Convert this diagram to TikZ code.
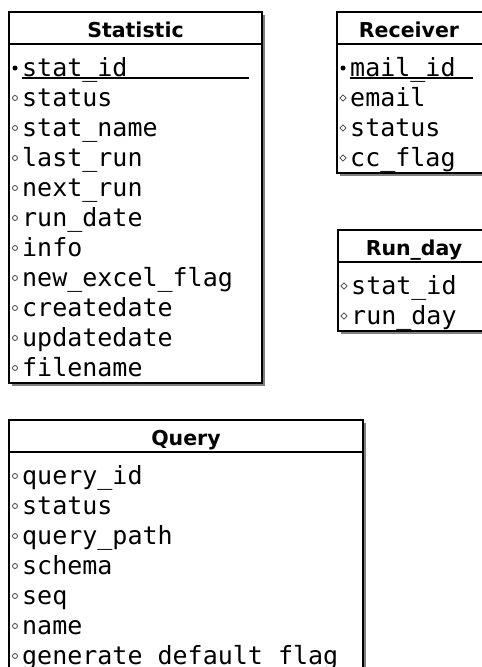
\documentclass[tikz,border=0pt]{standalone}
\usepackage{fontspec}
\setmainfont{DejaVu Sans}
\newfontfamily\monofam{DejaVu Sans Mono}
\usetikzlibrary{calc,shadows,shapes.geometric}
\newcommand{\hdrfont}{\fontsize{20.5}{24}\selectfont\bfseries}
\newcommand{\fldfont}{\monofam\fontsize{25}{30}\selectfont}
\tikzset{
  tbl/.style={draw=black, line width=2.2pt, fill=white, inner sep=0pt, outer sep=0pt, anchor=north west,
    drop shadow={shadow xshift=2.5pt, shadow yshift=-2.5pt, fill=black!50, opacity=1}},
  sepline/.style={line width=2.2pt},
  hdr/.style={font=\hdrfont, inner sep=0pt, anchor=base},
  fld/.style={font=\fldfont, inner sep=0pt, anchor=base west},
  keymark/.style={circle, fill=black, inner sep=0pt, minimum size=5pt},
  attmark/.style={circle, draw=black!75, line width=0.8pt, inner sep=0pt, minimum size=5pt},
  dmark/.style={diamond, draw=black!75, line width=0.8pt, inner sep=0pt, minimum size=6.5pt},
  keyline/.style={line width=1.3pt}
}
\begin{document}
\begin{tikzpicture}[x=1pt,y=-1pt]
\useasboundingbox[fill=white] (0,0) rectangle (482,667);

% ---------- Statistic ----------
\node[tbl, minimum width=253pt, minimum height=371pt] (stat) at (9,12) {};
\draw[sepline] ($(stat.north west)+(0,32)$) -- ($(stat.north east)+(0,32)$);
\node[hdr] (statT) at ($(stat.north)+(0,25)$) {Statistic};
\foreach \t [count=\i from 0] in {stat\_id,status,stat\_name,last\_run,next\_run,run\_date,info,new\_excel\_flag,createdate,updatedate,filename}{
  \node[fld] (stat-f\i) at ($(stat.north west)+(13,64+30*\i)$) {\t};
}
\node[keymark] (stat-m0) at ($(stat.north west)+(6,56)$) {};
\foreach \i in {1,...,10}{
  \node[attmark] (stat-m\i) at ($(stat.north west)+(6,56+30*\i)$) {};
}
\coordinate (stat-ue) at ($(stat.north east)+(-13,0)$);
\draw[keyline] ($(stat-f0.base west)+(0,2)$) -- ($(stat-f0.base west -| stat-ue)+(0,2)$);

% ---------- Receiver ----------
\node[tbl, minimum width=147pt, minimum height=161pt] (rec) at (337,12) {};
\draw[sepline] ($(rec.north west)+(0,32)$) -- ($(rec.north east)+(0,32)$);
\node[hdr] (recT) at (409,37) {Receiver};
\foreach \t [count=\i from 0] in {mail\_id,email,status,cc\_flag}{
  \node[fld] (rec-f\i) at ($(rec.north west)+(13,64+30*\i)$) {\t};
}
\node[keymark] (rec-m0) at ($(rec.north west)+(6,56)$) {};
\foreach \i in {1,...,3}{
  \node[dmark] (rec-m\i) at ($(rec.north west)+(6,56+30*\i)$) {};
}
\coordinate (rec-ue) at (473,0);
\draw[keyline] ($(rec-f0.base west)+(0,2)$) -- ($(rec-f0.base west -| rec-ue)+(0,2)$);

% ---------- Run_day ----------
\node[tbl, minimum width=152pt, minimum height=101pt] (run) at (338,230) {};
\draw[sepline] ($(run.north west)+(0,32)$) -- ($(run.north east)+(0,32)$);
\node[hdr] (runT) at (414,255) {Run\_day};
\foreach \t [count=\i from 0] in {stat\_id,run\_day}{
  \node[fld] (run-f\i) at ($(run.north west)+(13,64+30*\i)$) {\t};
  \node[dmark] (run-m\i) at ($(run.north west)+(6,56+30*\i)$) {};
}

% ---------- Query ----------
\node[tbl, minimum width=354pt, minimum height=253pt] (qry) at (9,420) {};
\draw[sepline] ($(qry.north west)+(0,32)$) -- ($(qry.north east)+(0,32)$);
\node[hdr] (qryT) at ($(qry.north)+(0,25)$) {Query};
\foreach \t [count=\i from 0] in {query\_id,status,query\_path,schema,seq,name,generate\_default\_flag}{
  \node[fld] (qry-f\i) at ($(qry.north west)+(13,64+30*\i)$) {\t};
  \node[attmark] (qry-m\i) at ($(qry.north west)+(6,56+30*\i)$) {};
}
\end{tikzpicture}
\end{document}
